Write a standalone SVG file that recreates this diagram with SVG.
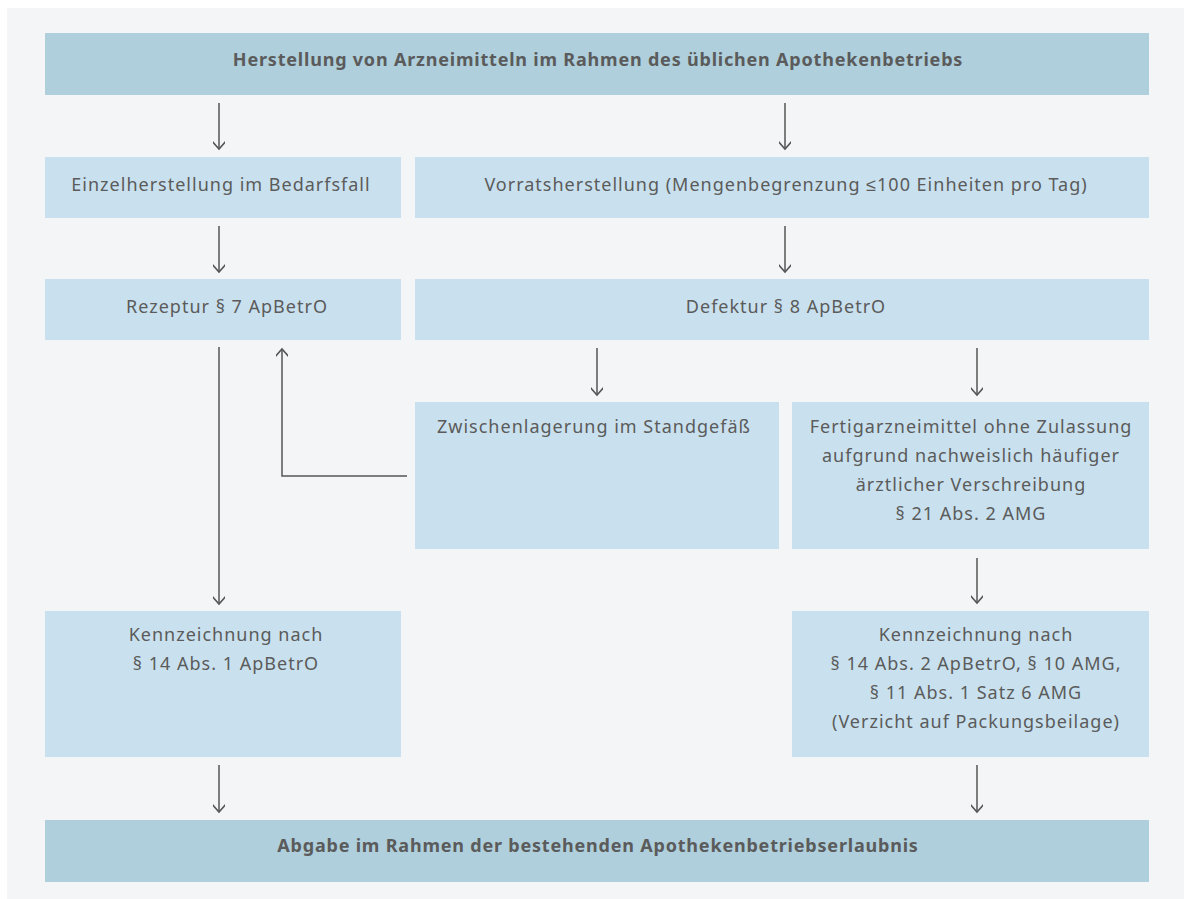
<svg xmlns="http://www.w3.org/2000/svg" width="1184" height="899" viewBox="0 0 1184 899">
<defs>
<style>
.bg{fill:#f4f5f7}
.dark{fill:#aecfdb}
.light{fill:#c9e1ee}
text{font-family:"Noto Sans","Liberation Sans",sans-serif;font-size:18px;letter-spacing:1px;fill:#5b5b5b}
.b{font-weight:bold;letter-spacing:0.8px}
.c{text-anchor:middle}
.ln{fill:none;stroke:#555;stroke-width:1.5}
</style>
<marker id="ah" markerWidth="12" markerHeight="12" viewBox="-10 -6 12 12" refX="0" refY="0" orient="auto" markerUnits="userSpaceOnUse">
<path d="M-9,-8 L0,0 L-9,8" fill="none" stroke="#555" stroke-width="1.5"/>
</marker>
</defs>
<rect width="1184" height="899" fill="#ffffff"/>
<rect class="bg" x="7" y="8" width="1177" height="891"/>
<g id="n-top"><rect class="dark" x="45" y="33" width="1104" height="62"/><text class="b c" x="598" y="66">Herstellung von Arzneimitteln im Rahmen des üblichen Apothekenbetriebs</text></g>
<g id="n-einzel"><rect class="light" x="45" y="157" width="356" height="61"/><text class="c" x="221" y="191">Einzelherstellung im Bedarfsfall</text></g>
<g id="n-vorrat"><rect class="light" x="415" y="157" width="734" height="61"/><text class="c" x="786" y="191">Vorratsherstellung (Mengenbegrenzung ≤100 Einheiten pro Tag)</text></g>
<g id="n-rezeptur"><rect class="light" x="45" y="279" width="356" height="61"/><text class="c" x="227" y="313">Rezeptur § 7 ApBetrO</text></g>
<g id="n-defektur"><rect class="light" x="415" y="279" width="734" height="61"/><text class="c" x="786" y="313">Defektur § 8 ApBetrO</text></g>
<g id="n-zwischen"><rect class="light" x="415" y="402" width="364" height="147"/><text x="437" y="433">Zwischenlagerung im Standgefäß</text></g>
<g id="n-fertig"><rect class="light" x="792" y="402" width="357" height="147"/><text class="c" x="971" y="433"><tspan x="971">Fertigarzneimittel ohne Zulassung</tspan><tspan x="971" dy="29">aufgrund nachweislich häufiger</tspan><tspan x="971" dy="29">ärztlicher Verschreibung</tspan><tspan x="971" dy="29">§ 21 Abs. 2 AMG</tspan></text></g>
<g id="n-kennz-l"><rect class="light" x="45" y="611" width="356" height="146"/><text class="c" x="226" y="641"><tspan x="226">Kennzeichnung nach</tspan><tspan x="226" dy="29">§ 14 Abs. 1 ApBetrO</tspan></text></g>
<g id="n-kennz-r"><rect class="light" x="792" y="611" width="357" height="146"/><text class="c" x="976" y="641"><tspan x="976">Kennzeichnung nach</tspan><tspan x="976" dy="29">§ 14 Abs. 2 ApBetrO, § 10 AMG,</tspan><tspan x="976" dy="29">§ 11 Abs. 1 Satz 6 AMG</tspan><tspan x="976" dy="29">(Verzicht auf Packungsbeilage)</tspan></text></g>
<g id="n-abgabe"><rect class="dark" x="45" y="820" width="1104" height="62"/><text class="b c" x="598" y="852">Abgabe im Rahmen der bestehenden Apothekenbetriebserlaubnis</text></g>
<g id="connectors">
<path class="ln" d="M219,103 V149" marker-end="url(#ah)"/>
<path class="ln" d="M785,103 V149" marker-end="url(#ah)"/>
<path class="ln" d="M219,226 V272" marker-end="url(#ah)"/>
<path class="ln" d="M785,226 V272" marker-end="url(#ah)"/>
<path class="ln" d="M219,347 V604" marker-end="url(#ah)"/>
<path class="ln" d="M407,476 H282 V349" marker-end="url(#ah)"/>
<path class="ln" d="M597,348 V395" marker-end="url(#ah)"/>
<path class="ln" d="M977,348 V395" marker-end="url(#ah)"/>
<path class="ln" d="M977,558 V603" marker-end="url(#ah)"/>
<path class="ln" d="M219,765 V812" marker-end="url(#ah)"/>
<path class="ln" d="M977,765 V812" marker-end="url(#ah)"/>
</g>
</svg>
